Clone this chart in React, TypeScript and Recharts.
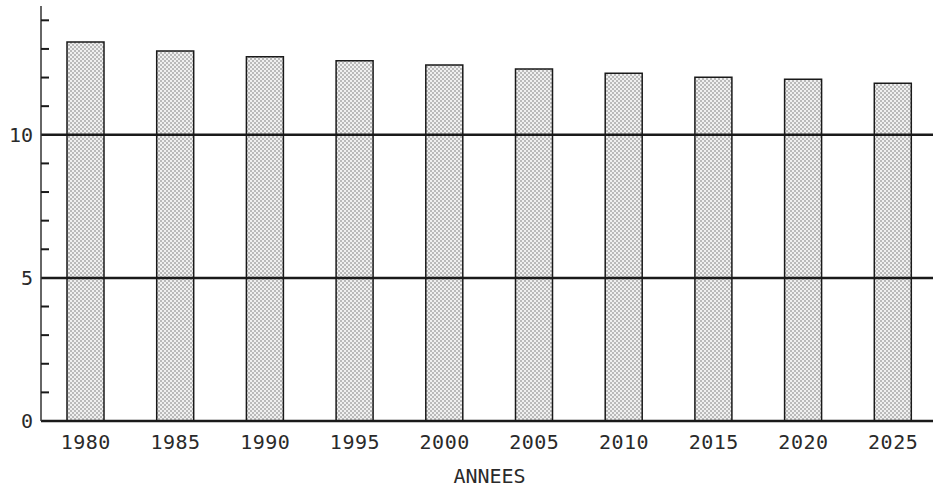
import { BarChart, Bar, XAxis, YAxis, ReferenceLine } from 'recharts'

const annees = ['1980', '1985', '1990', '1995', '2000', '2005', '2010', '2015', '2020', '2025']
const valeurs = [13.24, 12.93, 12.73, 12.59, 12.44, 12.3, 12.15, 12.01, 11.94, 11.8]
const yTicks = [0, 1, 2, 3, 4, 5, 6, 7, 8, 9, 10, 11, 12, 13, 14]
const yLabels = [0, 5, 10]
const gridLines = [5, 10]

const data = annees.map((a, i) => ({ annee: a, valeur: valeurs[i] }))

const FONT = '"DejaVu Sans Mono", "Liberation Mono", monospace'
const INK = '#1a1a1a'
const TEXT = '#2a2a2a'

function YTick({ x, y, payload }: { x?: number; y?: number; payload?: { value: number } }) {
  const v = payload?.value ?? 0
  const axisX = x ?? 0
  return (
    <g>
      {v % 5 !== 0 && <line x1={axisX} x2={axisX + 8} y1={y} y2={y} stroke={INK} strokeWidth={2} />}
      {yLabels.includes(v) && (
        <text x={axisX - 8} y={(y ?? 0) + 7} textAnchor="end" fontFamily={FONT} fontSize={20} fill={TEXT}>
          {v}
        </text>
      )}
    </g>
  )
}

export default function App() {
  return (
    <div style={{ position: 'absolute', left: 0, top: 0, width: 933, height: 493, overflow: 'hidden', background: '#fff' }}>
      <BarChart width={940} height={493} data={data} margin={{ top: 6, right: 2, left: 0, bottom: 0 }} barCategoryGap={0}>
        <defs>
          <pattern id="stipple" width="4" height="4" patternUnits="userSpaceOnUse">
            <rect width="4" height="4" fill="#f0f0f0" />
            <circle cx="1" cy="1" r="0.75" fill="#6a6a6a" />
            <circle cx="3" cy="3" r="0.75" fill="#6a6a6a" />
          </pattern>
        </defs>
        <XAxis
          dataKey="annee"
          height={72}
          axisLine={{ stroke: INK, strokeWidth: 2.5 }}
          tickLine={false}
          tickSize={0}
          tickMargin={14}
          tick={{ fontFamily: FONT, fontSize: 20, fill: TEXT, letterSpacing: 0.5 }}
          label={{ value: 'ANNEES', position: 'insideBottom', offset: 10, fontFamily: FONT, fontSize: 20, fill: TEXT }}
        />
        <YAxis
          width={41}
          domain={[0, 14.5]}
          ticks={yTicks}
          interval={0}
          tickLine={false}
          tickSize={0}
          tickMargin={0}
          axisLine={{ stroke: '#333', strokeWidth: 1.5 }}
          tick={<YTick />}
        />
        {gridLines.map(g => (
          <ReferenceLine key={g} y={g} stroke={INK} strokeWidth={2.5} />
        ))}
        <Bar
          dataKey="valeur"
          barSize={37}
          fill="url(#stipple)"
          stroke={INK}
          strokeWidth={1.5}
          isAnimationActive={false}
        />
      </BarChart>
    </div>
  )
}
